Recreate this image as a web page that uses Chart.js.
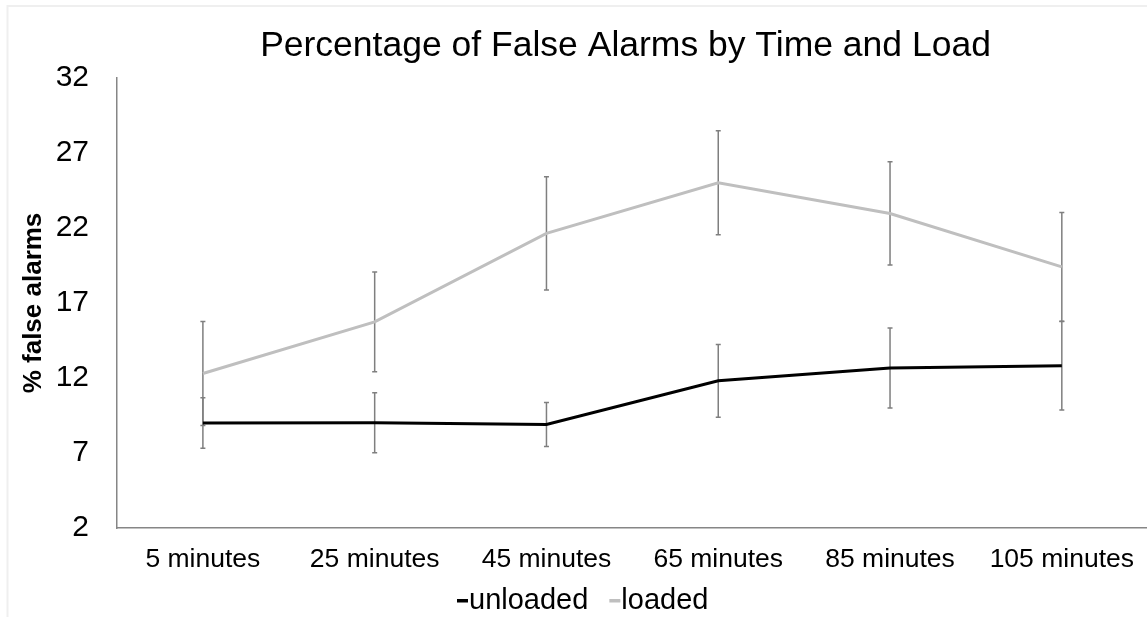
<!DOCTYPE html>
<html>
<head>
<meta charset="utf-8">
<script src="https://cdn.jsdelivr.net/npm/chart.js@4.4.0/dist/chart.umd.min.js"></script>
<style>
  html, body { margin: 0; padding: 0; background: #fff; overflow: hidden; }
  #wrap { position: relative; width: 1150px; height: 617px; }
</style>
</head>
<body>
<div id="wrap"><canvas id="c"></canvas></div>
<script>
// ---- data ----
const categories = ['5 minutes', '25 minutes', '45 minutes', '65 minutes', '85 minutes', '105 minutes'];
const unloaded    = [9.00, 9.02, 8.90, 11.81, 12.67, 12.81];
const unloadedErr = [1.68, 2.00, 1.47, 2.42, 2.67, 2.95];
const loaded      = [12.30, 15.74, 21.64, 25.02, 22.97, 19.41];
const loadedErr   = [3.46, 3.33, 3.78, 3.47, 3.44, 3.63];
const yMin = 2, yMax = 32, yStep = 5;
const chartTitle = 'Percentage of False Alarms by Time and Load';
const yTitle = '% false alarms';

const FONT = '"Liberation Sans", Arial, sans-serif';

const errorBars = {
  id: 'errorBars',
  beforeDatasetsDraw(chart) {
    const ctx = chart.ctx;
    const y = chart.scales.y;
    ctx.save();
    ctx.strokeStyle = '#7f7f7f';
    ctx.lineWidth = 1.5;
    chart.data.datasets.forEach((ds, di) => {
      const meta = chart.getDatasetMeta(di);
      meta.data.forEach((pt, i) => {
        const v = ds.data[i], e = ds.err[i];
        const x = pt.x;
        const yt = y.getPixelForValue(v + e), yb = y.getPixelForValue(v - e);
        ctx.beginPath();
        ctx.moveTo(x, yt); ctx.lineTo(x, yb);
        ctx.moveTo(x - 2.5, yt); ctx.lineTo(x + 2.5, yt);
        ctx.moveTo(x - 2.5, yb); ctx.lineTo(x + 2.5, yb);
        ctx.stroke();
      });
    });
    ctx.restore();
  }
};

const decor = {
  id: 'decor',
  beforeDraw(chart) {
    const ctx = chart.ctx;
    ctx.save();
    ctx.fillStyle = '#fff';
    ctx.fillRect(0, 0, chart.width, chart.height);
    ctx.strokeStyle = '#efefef';
    ctx.lineWidth = 2;
    ctx.beginPath();
    ctx.moveTo(7.5, chart.height); ctx.lineTo(7.5, 6); ctx.lineTo(chart.width, 6);
    ctx.stroke();
    ctx.restore();
  },
  afterDraw(chart) {
    const ctx = chart.ctx;
    ctx.save();
    // title
    ctx.fillStyle = '#000';
    ctx.font = '35.5px ' + FONT;
    ctx.textAlign = 'center';
    ctx.textBaseline = 'alphabetic';
    ctx.fillText(chartTitle, 625.5, 56);
    // legend
    ctx.font = '29px ' + FONT;
    ctx.textAlign = 'left';
    let x = 457;
    chart.data.datasets.forEach((ds) => {
      ctx.fillStyle = ds.borderColor;
      ctx.fillRect(x, 599, 11, 3.5);
      x += 12;
      ctx.fillStyle = '#000';
      ctx.fillText(ds.label, x, 609);
      x += ctx.measureText(ds.label).width + 21;
    });
    ctx.restore();
  }
};

new Chart(document.getElementById('c'), {
  type: 'line',
  data: {
    labels: categories,
    datasets: [
      { label: 'unloaded', data: unloaded, err: unloadedErr, borderColor: '#000000', borderWidth: 3, pointRadius: 0, tension: 0 },
      { label: 'loaded', data: loaded, err: loadedErr, borderColor: '#bfbfbf', borderWidth: 3, pointRadius: 0, tension: 0 }
    ]
  },
  options: {
    responsive: true,
    maintainAspectRatio: false,
    animation: false,
    layout: { padding: { top: 78, right: 0, bottom: 0, left: 0 } },
    plugins: { legend: { display: false }, title: { display: false }, tooltip: { enabled: false } },
    scales: {
      x: {
        offset: true,
        grid: { display: false, drawTicks: false },
        border: { display: true, color: '#868686', width: 1.5 },
        ticks: { color: '#000', font: { family: FONT, size: 26.5 }, padding: 16, maxRotation: 0, autoSkip: false },
        afterFit(s) { s.height = 89; }
      },
      y: {
        min: yMin, max: yMax,
        grid: { display: false, drawTicks: false },
        border: { display: true, color: '#868686', width: 1.5 },
        ticks: { stepSize: yStep, color: '#000', font: { family: FONT, size: 30 }, padding: 28 },
        title: { display: true, text: yTitle, color: '#000', font: { family: FONT, size: 26, weight: 'bold' }, padding: { top: 18, bottom: 0 } },
        afterFit(s) { s.width = 117; }
      }
    }
  },
  plugins: [decor, errorBars]
});
</script>
</body>
</html>
